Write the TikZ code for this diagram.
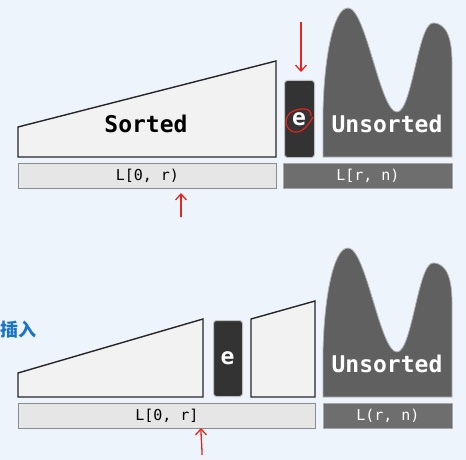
\documentclass[tikz,border=0pt]{standalone}
\usepackage{fontspec}
\setmonofont{DejaVu Sans Mono}
\newfontfamily\cjk{Noto Sans CJK SC}
\usetikzlibrary{arrows.meta}
\definecolor{bgc}{HTML}{EEF4FB}
\definecolor{sortfill}{HTML}{F2F2F2}
\definecolor{barlight}{HTML}{E6E6E6}
\definecolor{bardark}{HTML}{6E6E6E}
\definecolor{unsfill}{HTML}{606060}
\definecolor{ebox}{HTML}{333333}
\definecolor{penred}{HTML}{E8231E}
\definecolor{titleblue}{HTML}{1A74C9}
\tikzset{
  sortshape/.style={fill=sortfill,draw=black!85,line width=1.4pt,line join=miter},
  unsshape/.style={fill=unsfill,draw=black!30,line width=0.8pt},
  lightbar/.style={fill=barlight,draw=black!45,line width=0.8pt,inner sep=0pt,anchor=north west},
  darkbar/.style={fill=bardark,draw=black!35,line width=0.8pt,inner sep=0pt,anchor=north west,text=white},
  ebx/.style={fill=ebox,draw=black!25,line width=1pt,rounded corners=3pt,inner sep=0pt,anchor=north west},
  bigtxt/.style={font=\ttfamily\bfseries\fontsize{23}{23}\selectfont},
  lbltxt/.style={font=\ttfamily\fontsize{15}{15}\selectfont},
  redarrow/.style={draw=penred,line width=1.3pt,-{Straight Barb[length=6pt,width=11pt]}},
}
\begin{document}
\begin{tikzpicture}[x=1pt,y=-1pt]
\fill[bgc] (0,0) rectangle (466,460);
\useasboundingbox (0,0) rectangle (466,460);
% ---------- top panel ----------
\draw[sortshape] (18,157) -- (18,127) -- (276,61) -- (276,157) -- cycle;
\node[bigtxt] (sorted1) at (146,124) {Sorted};
\draw[unsshape] (323,157) -- (323,112) .. controls (324,60) and (333,8) .. (348,8)
  .. controls (366,8) and (380,112) .. (397,112)
  .. controls (412,112) and (418,23) .. (433,23)
  .. controls (448,23) and (452,42) .. (452,62) -- (452,157) -- cycle;
\node[bigtxt,text=white] (uns1) at (387,124) {Unsorted};
\node[ebx,minimum width=30pt,minimum height=77pt] (e1) at (284,80) {};
\node[text=white,bigtxt] (etxt1) at (299,119) {e};
\node[lightbar,lbltxt,minimum width=258pt,minimum height=25pt] (bar1) at (18,163) {L[0, r)};
\node[darkbar,lbltxt,minimum width=169pt,minimum height=25pt] (bar2) at (283,163) {L[r, n)};
\draw[penred,line width=1.2pt] (311,116) .. controls (312,106) and (297,108) .. (290,113)
  .. controls (283,120) and (286,131) .. (295,132) .. controls (303,133) and (309,124) .. (313,117);
\coordinate (a1s) at (301,22);
\draw[redarrow] (a1s) -- (e1.north -| a1s) [shorten >=8pt];
\coordinate (a2s) at (181,217);
\draw[redarrow] (a2s) -- (181,193);
% ---------- bottom panel ----------
\node[font=\cjk\bfseries\fontsize{18}{18}\selectfont,text=titleblue,anchor=west,inner sep=0pt] (title) at (0,330) {插入};
\draw[sortshape] (18,397) -- (18,373) -- (203,319) -- (203,397) -- cycle;
\draw[sortshape] (251,397) -- (251,319) -- (315,301) -- (315,397) -- cycle;
\node[ebx,minimum width=29pt,minimum height=76pt] (e2) at (213,320) {};
\node[text=white,bigtxt] (etxt2) at (227.5,358) {e};
\draw[unsshape] (323,397) -- (323,352) .. controls (324,300) and (333,248) .. (348,248)
  .. controls (366,248) and (380,352) .. (397,352)
  .. controls (412,352) and (418,263) .. (433,263)
  .. controls (448,263) and (452,282) .. (452,302) -- (452,397) -- cycle;
\node[bigtxt,text=white] (uns2) at (387,364) {Unsorted};
\node[lightbar,lbltxt,minimum width=297pt,minimum height=25pt] (bar3) at (18,403) {L[0, r]};
\node[darkbar,lbltxt,minimum width=129pt,minimum height=25pt] (bar4) at (323,403) {L(r, n)};
\coordinate (a3s) at (202,455);
\draw[redarrow] (a3s) .. controls (202,445) and (201,438) .. (201,428);
\end{tikzpicture}
\end{document}
